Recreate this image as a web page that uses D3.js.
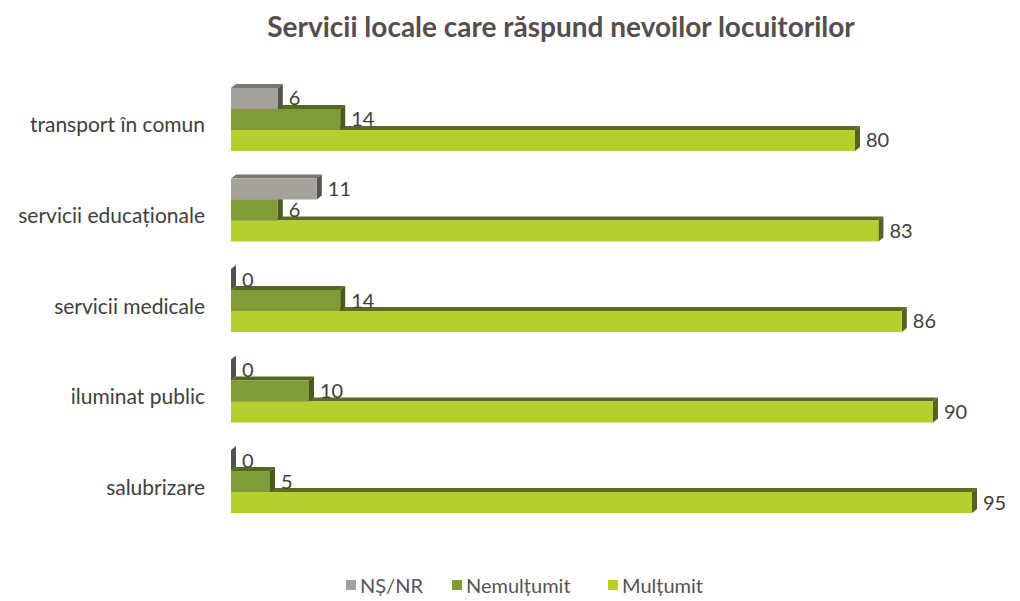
<!DOCTYPE html>
<html>
<head>
<meta charset="utf-8">
<script src="https://cdn.jsdelivr.net/npm/d3@7"></script>
<style>
  body { margin: 0; background: #fff; }
  text { font-family: Lato, "Open Sans", sans-serif; }
</style>
</head>
<body>
<svg id="chart" width="1020" height="601"></svg>
<script>
// categories and series values
var categories = ["transport în comun", "servicii educaționale", "servicii medicale", "iluminat public", "salubrizare"];
var seriesNames = ["NȘ/NR", "Nemulțumit", "Mulțumit"];
var nsnr = [6, 11, 0, 0, 0];
var nemultumit = [14, 6, 14, 10, 5];
var multumit = [80, 83, 86, 90, 95];

var seriesValues = [nsnr, nemultumit, multumit];

// front / top / side colours for each series
var colors = [
  {front: "#a5a29b", top: "#7b7872", side: "#55534f"},
  {front: "#7f9c38", top: "#55681f", side: "#4a5a1c"},
  {front: "#b6cf2c", top: "#5c6a22", side: "#56621f"}
];

var svg = d3.select("#chart");
var depthX = 5, depthY = 4;

// scales
var x = d3.scaleLinear().domain([0, 100]).range([231, 1011]);
var y = d3.scaleBand().domain(categories).range([74.4, 526.6]).paddingInner(0.304).paddingOuter(0.15);
var ySeries = d3.scaleBand().domain(seriesNames).range([0, y.bandwidth()]);

// title
svg.append("text")
  .attr("x", 561).attr("y", 37)
  .attr("text-anchor", "middle")
  .style("font-size", "28px").style("font-weight", "bold")
  .style("fill", "#574d4d")
  .text("Servicii locale care răspund nevoilor locuitorilor");

var bars = svg.append("g");

categories.forEach(function(cat, ci) {
  // draw from the bottom bar up so the upper front covers the top face below
  for (var si = seriesNames.length - 1; si >= 0; si--) {
    var v = seriesValues[si][ci];
    var x0 = x(0), x1 = x(v);
    var y0 = y(cat) + ySeries(seriesNames[si]);
    var h = ySeries.bandwidth();
    var c = colors[si];

    // top face
    bars.append("polygon")
      .attr("points", [[x0, y0], [x0 + depthX, y0 - depthY], [x1 + depthX, y0 - depthY], [x1, y0]].join(" "))
      .attr("fill", c.top);
    // side face
    bars.append("polygon")
      .attr("points", [[x1, y0], [x1 + depthX, y0 - depthY], [x1 + depthX, y0 + h - depthY], [x1, y0 + h]].join(" "))
      .attr("fill", c.side);
    // front face
    bars.append("rect")
      .attr("x", x0).attr("y", y0)
      .attr("width", x1 - x0).attr("height", h)
      .attr("fill", c.front);

    // value label
    bars.append("text")
      .attr("x", x1 + depthX + 6)
      .attr("y", y0 + h / 2 + 7)
      .style("font-size", "20px").style("fill", "#404040")
      .text(v);
  }
});

// category labels
svg.append("g").selectAll("text")
  .data(categories)
  .enter().append("text")
    .attr("x", 205)
    .attr("y", function(d) { return y(d) + y.bandwidth() / 2 + 13; })
    .attr("text-anchor", "end")
    .style("font-size", "21px").style("fill", "#404040")
    .text(function(d) { return d; });

// legend
var legendX = [346, 452, 608];
var legend = svg.append("g");
seriesNames.forEach(function(name, i) {
  legend.append("rect")
    .attr("x", legendX[i]).attr("y", 580)
    .attr("width", 10).attr("height", 10)
    .attr("fill", colors[i].front);
  legend.append("text")
    .attr("x", legendX[i] + 14).attr("y", 593)
    .style("font-size", "20px").style("fill", "#555")
    .text(name);
});
</script>
</body>
</html>
